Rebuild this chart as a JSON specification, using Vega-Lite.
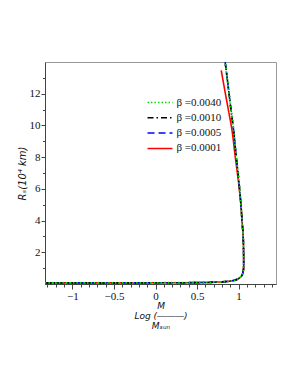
{
  "$schema": "https://vega.github.io/schema/vega-lite/v6.json",
  "autosize": "none",
  "padding": {"left": 45, "top": 62, "right": 22, "bottom": 101},
  "width": 231,
  "height": 222,
  "background": "white",
  "config": {
    "view": {"stroke": "#999999", "strokeWidth": 1},
    "axis": {"domainColor": "#444444", "tickColor": "#444444", "labelFont": "Liberation Serif", "labelFontSize": 11, "labelColor": "#111111", "titleFont": "DejaVu Sans", "titleFontStyle": "italic", "titleFontWeight": "normal", "titleFontSize": 9, "titleColor": "#111111", "grid": false},
    "legend": {"labelFont": "Liberation Serif"}
  },
  "data": {"values": [
    {"s": "β =0.0001", "i": 1, "x": -1.33, "y": 0.07},
    {"s": "β =0.0001", "i": 2, "x": -0.5, "y": 0.07},
    {"s": "β =0.0001", "i": 3, "x": 0.2, "y": 0.08},
    {"s": "β =0.0001", "i": 4, "x": 0.54, "y": 0.09},
    {"s": "β =0.0001", "i": 5, "x": 0.7, "y": 0.11},
    {"s": "β =0.0001", "i": 6, "x": 0.84, "y": 0.15},
    {"s": "β =0.0001", "i": 7, "x": 0.9, "y": 0.18},
    {"s": "β =0.0001", "i": 8, "x": 0.96, "y": 0.25},
    {"s": "β =0.0001", "i": 9, "x": 0.985, "y": 0.3},
    {"s": "β =0.0001", "i": 10, "x": 1.02, "y": 0.42},
    {"s": "β =0.0001", "i": 11, "x": 1.045, "y": 0.6},
    {"s": "β =0.0001", "i": 12, "x": 1.055, "y": 0.8},
    {"s": "β =0.0001", "i": 13, "x": 1.06, "y": 1.0},
    {"s": "β =0.0001", "i": 14, "x": 1.061, "y": 1.5},
    {"s": "β =0.0001", "i": 15, "x": 1.06, "y": 2.0},
    {"s": "β =0.0001", "i": 16, "x": 1.055, "y": 3.0},
    {"s": "β =0.0001", "i": 17, "x": 1.041, "y": 4.0},
    {"s": "β =0.0001", "i": 18, "x": 1.028, "y": 4.95},
    {"s": "β =0.0001", "i": 19, "x": 1.008, "y": 6.0},
    {"s": "β =0.0001", "i": 20, "x": 0.985, "y": 7.0},
    {"s": "β =0.0001", "i": 21, "x": 0.96, "y": 8.0},
    {"s": "β =0.0001", "i": 22, "x": 0.921, "y": 9.68},
    {"s": "β =0.0001", "i": 23, "x": 0.876, "y": 11.0},
    {"s": "β =0.0001", "i": 24, "x": 0.841, "y": 12.0},
    {"s": "β =0.0001", "i": 25, "x": 0.807, "y": 13.0},
    {"s": "β =0.0001", "i": 26, "x": 0.791, "y": 13.47},
    {"s": "β =0.0005", "i": 1, "x": -1.33, "y": 0.07},
    {"s": "β =0.0005", "i": 2, "x": -0.5, "y": 0.07},
    {"s": "β =0.0005", "i": 3, "x": 0.2, "y": 0.08},
    {"s": "β =0.0005", "i": 4, "x": 0.54, "y": 0.09},
    {"s": "β =0.0005", "i": 5, "x": 0.7, "y": 0.11},
    {"s": "β =0.0005", "i": 6, "x": 0.84, "y": 0.15},
    {"s": "β =0.0005", "i": 7, "x": 0.9, "y": 0.18},
    {"s": "β =0.0005", "i": 8, "x": 0.96, "y": 0.25},
    {"s": "β =0.0005", "i": 9, "x": 0.985, "y": 0.3},
    {"s": "β =0.0005", "i": 10, "x": 1.02, "y": 0.42},
    {"s": "β =0.0005", "i": 11, "x": 1.045, "y": 0.6},
    {"s": "β =0.0005", "i": 12, "x": 1.055, "y": 0.8},
    {"s": "β =0.0005", "i": 13, "x": 1.06, "y": 1.0},
    {"s": "β =0.0005", "i": 14, "x": 1.061, "y": 1.5},
    {"s": "β =0.0005", "i": 15, "x": 1.06, "y": 2.0},
    {"s": "β =0.0005", "i": 16, "x": 1.055, "y": 3.0},
    {"s": "β =0.0005", "i": 17, "x": 1.041, "y": 4.0},
    {"s": "β =0.0005", "i": 18, "x": 1.029, "y": 4.95},
    {"s": "β =0.0005", "i": 19, "x": 1.012, "y": 6.0},
    {"s": "β =0.0005", "i": 20, "x": 0.993, "y": 7.0},
    {"s": "β =0.0005", "i": 21, "x": 0.972, "y": 8.0},
    {"s": "β =0.0005", "i": 22, "x": 0.94, "y": 9.68},
    {"s": "β =0.0005", "i": 23, "x": 0.908, "y": 11.0},
    {"s": "β =0.0005", "i": 24, "x": 0.885, "y": 12.0},
    {"s": "β =0.0005", "i": 25, "x": 0.862, "y": 13.0},
    {"s": "β =0.0005", "i": 26, "x": 0.838, "y": 14.0},
    {"s": "β =0.0010", "i": 1, "x": -1.33, "y": 0.07},
    {"s": "β =0.0010", "i": 2, "x": -0.5, "y": 0.07},
    {"s": "β =0.0010", "i": 3, "x": 0.2, "y": 0.08},
    {"s": "β =0.0010", "i": 4, "x": 0.54, "y": 0.09},
    {"s": "β =0.0010", "i": 5, "x": 0.7, "y": 0.11},
    {"s": "β =0.0010", "i": 6, "x": 0.84, "y": 0.15},
    {"s": "β =0.0010", "i": 7, "x": 0.9, "y": 0.18},
    {"s": "β =0.0010", "i": 8, "x": 0.96, "y": 0.25},
    {"s": "β =0.0010", "i": 9, "x": 0.985, "y": 0.3},
    {"s": "β =0.0010", "i": 10, "x": 1.02, "y": 0.42},
    {"s": "β =0.0010", "i": 11, "x": 1.045, "y": 0.6},
    {"s": "β =0.0010", "i": 12, "x": 1.055, "y": 0.8},
    {"s": "β =0.0010", "i": 13, "x": 1.06, "y": 1.0},
    {"s": "β =0.0010", "i": 14, "x": 1.061, "y": 1.5},
    {"s": "β =0.0010", "i": 15, "x": 1.06, "y": 2.0},
    {"s": "β =0.0010", "i": 16, "x": 1.055, "y": 3.0},
    {"s": "β =0.0010", "i": 17, "x": 1.041, "y": 4.0},
    {"s": "β =0.0010", "i": 18, "x": 1.029, "y": 4.95},
    {"s": "β =0.0010", "i": 19, "x": 1.012, "y": 6.0},
    {"s": "β =0.0010", "i": 20, "x": 0.993, "y": 7.0},
    {"s": "β =0.0010", "i": 21, "x": 0.972, "y": 8.0},
    {"s": "β =0.0010", "i": 22, "x": 0.94, "y": 9.68},
    {"s": "β =0.0010", "i": 23, "x": 0.908, "y": 11.0},
    {"s": "β =0.0010", "i": 24, "x": 0.885, "y": 12.0},
    {"s": "β =0.0010", "i": 25, "x": 0.862, "y": 13.0},
    {"s": "β =0.0010", "i": 26, "x": 0.838, "y": 14.0},
    {"s": "β =0.0040", "i": 1, "x": -1.33, "y": 0.07},
    {"s": "β =0.0040", "i": 2, "x": -0.5, "y": 0.07},
    {"s": "β =0.0040", "i": 3, "x": 0.2, "y": 0.08},
    {"s": "β =0.0040", "i": 4, "x": 0.54, "y": 0.09},
    {"s": "β =0.0040", "i": 5, "x": 0.7, "y": 0.11},
    {"s": "β =0.0040", "i": 6, "x": 0.84, "y": 0.15},
    {"s": "β =0.0040", "i": 7, "x": 0.9, "y": 0.18},
    {"s": "β =0.0040", "i": 8, "x": 0.96, "y": 0.25},
    {"s": "β =0.0040", "i": 9, "x": 0.985, "y": 0.3},
    {"s": "β =0.0040", "i": 10, "x": 1.02, "y": 0.42},
    {"s": "β =0.0040", "i": 11, "x": 1.045, "y": 0.6},
    {"s": "β =0.0040", "i": 12, "x": 1.055, "y": 0.8},
    {"s": "β =0.0040", "i": 13, "x": 1.06, "y": 1.0},
    {"s": "β =0.0040", "i": 14, "x": 1.061, "y": 1.5},
    {"s": "β =0.0040", "i": 15, "x": 1.06, "y": 2.0},
    {"s": "β =0.0040", "i": 16, "x": 1.055, "y": 3.0},
    {"s": "β =0.0040", "i": 17, "x": 1.041, "y": 4.0},
    {"s": "β =0.0040", "i": 18, "x": 1.029, "y": 4.95},
    {"s": "β =0.0040", "i": 19, "x": 1.012, "y": 6.0},
    {"s": "β =0.0040", "i": 20, "x": 0.993, "y": 7.0},
    {"s": "β =0.0040", "i": 21, "x": 0.972, "y": 8.0},
    {"s": "β =0.0040", "i": 22, "x": 0.94, "y": 9.68},
    {"s": "β =0.0040", "i": 23, "x": 0.908, "y": 11.0},
    {"s": "β =0.0040", "i": 24, "x": 0.885, "y": 12.0},
    {"s": "β =0.0040", "i": 25, "x": 0.862, "y": 13.0},
    {"s": "β =0.0040", "i": 26, "x": 0.838, "y": 14.0}
  ]},
  "encoding": {
    "x": {
      "field": "x", "type": "quantitative",
      "scale": {"domain": [-1.33, 1.45], "nice": false, "zero": false},
      "axis": {
        "values": [-1.3,-1.2,-1.1,-1,-0.9,-0.8,-0.7,-0.6,-0.5,-0.4,-0.3,-0.2,-0.1,0,0.1,0.2,0.3,0.4,0.5,0.6,0.7,0.8,0.9,1,1.1,1.2,1.3,1.4],
        "format": ".1~f",
        "labelExpr": "abs(datum.value*2 - round(datum.value*2)) < 0.000001 ? datum.label : ''",
        "tickSize": {"condition": {"test": "abs(datum.value*2 - round(datum.value*2)) < 0.000001", "value": 5}, "value": 3},
        "labelPadding": 1,
        "labelFlush": false,
        "labelOverlap": false,
        "title": ["\u00a0\u00a0\u00a0\u00a0\u00a0\u00a0\u00a0M", "Log (\u2015\u2015\u2015)", "\u00a0\u00a0\u00a0\u00a0\u00a0\u00a0\u00a0Mₛᵤₙ"],
        "titleLineHeight": 10,
        "titlePadding": 0
      }
    },
    "y": {
      "field": "y", "type": "quantitative",
      "scale": {"domain": [0, 14], "nice": false},
      "axis": {
        "values": [1,2,3,4,5,6,7,8,9,10,11,12,13],
        "labelExpr": "datum.value % 2 == 0 ? datum.label : ''",
        "tickSize": {"condition": {"test": "datum.value % 2 == 0", "value": 4}, "value": 2.5},
        "labelPadding": 1,
        "labelFlush": false,
        "labelOverlap": false,
        "title": "Rₛ(10⁴ km)",
        "titleFontSize": 10,
        "titlePadding": 2
      }
    },
    "order": {"field": "i", "type": "quantitative"},
    "color": {
      "field": "s", "type": "nominal",
      "scale": {"domain": ["β =0.0040", "β =0.0010", "β =0.0005", "β =0.0001"], "range": ["#00dd00", "#000000", "#0000ff", "#ff0000"]},
      "legend": {
        "title": null, "orient": "none", "legendX": 108, "legendY": 33.5,
        "symbolType": "M-2,0H2", "symbolSize": 156, "symbolStrokeWidth": 1.5,
        "labelFontSize": 11, "labelColor": "#111111",
        "labelOffset": 9.5, "rowPadding": 3.3, "padding": 0
      }
    },
    "strokeDash": {
      "field": "s", "type": "nominal",
      "scale": {"domain": ["β =0.0040", "β =0.0010", "β =0.0005", "β =0.0001"], "range": [[1.5, 2], [6, 3, 1.5, 3], [7, 4], [1, 0]]},
      "legend": null
    }
  },
  "layer": [
    {"transform": [{"filter": "datum.s == 'β =0.0001'"}], "mark": {"type": "line", "interpolate": "catmull-rom", "strokeWidth": 1.6, "clip": true}},
    {"transform": [{"filter": "datum.s == 'β =0.0005'"}], "mark": {"type": "line", "interpolate": "catmull-rom", "strokeWidth": 1.6, "clip": true}},
    {"transform": [{"filter": "datum.s == 'β =0.0010'"}], "mark": {"type": "line", "interpolate": "catmull-rom", "strokeWidth": 1.6, "clip": true}},
    {"transform": [{"filter": "datum.s == 'β =0.0040'"}], "mark": {"type": "line", "interpolate": "catmull-rom", "strokeWidth": 1.8, "clip": true}}
  ]
}
